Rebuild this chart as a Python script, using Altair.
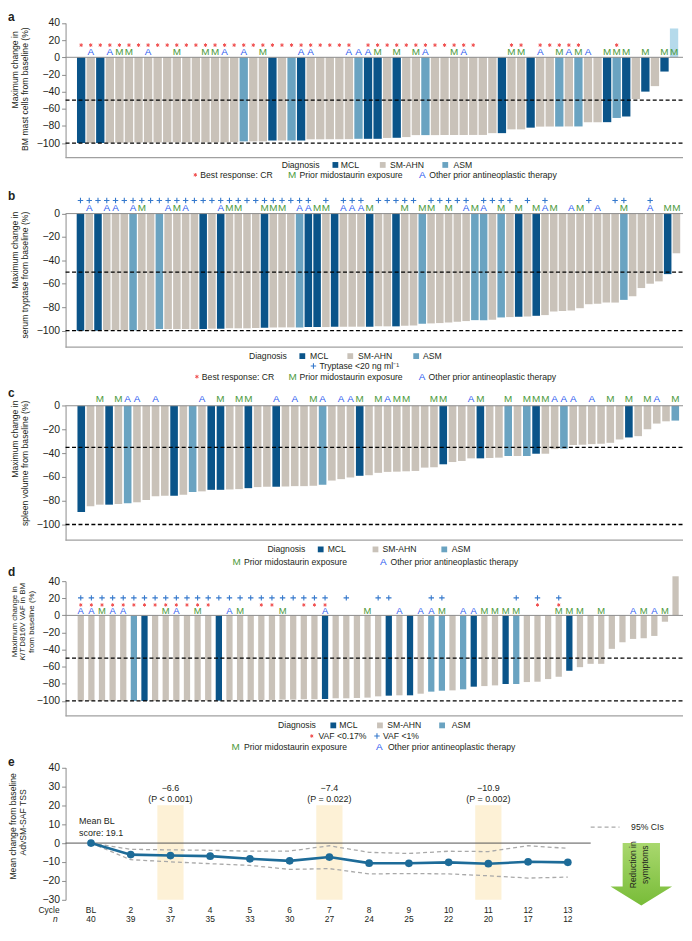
import altair as alt
import pandas as pd

FONT = "Liberation Sans"
TXT = "#231f20"
AXC = "#8c8c8c"
C_MCL = "#0A5489"
C_SM = "#C9C2B9"
C_ASM = "#6AA3C1"
C_LIGHT = "#B5DAEB"
C_A = "#2D5CF0"
C_M = "#4C9A3C"
C_STAR = "#F04E4E"
C_PLUS = "#3478CC"
C_LINE = "#1D6B98"
C_CI = "#A9A9A9"
C_HL = "#FDF1D6"
W = 620
RULE_END = 622
STAR_PATH = "M 0 -1 L 0 1 M -0.87 -0.5 L 0.87 0.5 M -0.87 0.5 L 0.87 -0.5"
PLUS_PATH = "M -1 0 L 1 0 M 0 -1 L 0 1"

DIAG_DOMAIN = ["MCL", "SM-AHN", "ASM", "ASM-light"]
DIAG_RANGE = [C_MCL, C_SM, C_ASM, C_LIGHT]

# ---------------- panel a : BM mast cells ----------------
a_values = [-100, -100, -100, -99.5, -99.5, -99.3, -99.3, -99.2, -99.2, -99.1, -99.1, -99, -99, -99,
            -98.9, -98.9, -98.8, -98, -98, -98, -97, -97, -97, -97, -95.6, -95.6, -95.5, -95.5,
            -95.4, -95, -95, -95, -94, -93.8, -93, -90.7, -90.7, -90.7, -90.6, -90.6, -90.6, -90.5,
            -90.5, -88.4, -88.4, -84, -84, -82, -80.8, -80.7, -80.7, -80.6, -80.6, -75.7, -75.7,
            -75.6, -70.7, -69, -48.6, -40, -33.6, -16.6, 33.6]
a_mcl = [0, 2, 20, 23, 30, 31, 33, 44, 47, 55, 57, 59, 61]
a_asm = [17, 22, 29, 36, 50, 52, 56]
a_light = [62]
a_cr = [0, 1, 2, 3, 4, 5, 6, 7, 8, 9, 10, 11, 12, 13, 14, 15, 16, 17, 18, 19, 20, 21, 22, 23, 24,
        25, 26, 27, 28, 30, 31, 32, 33, 34, 35, 36, 37, 38, 39, 40, 41, 45, 46, 48, 49, 50, 51, 52, 56]
a_other = [1, 3, 7, 15, 17, 23, 24, 28, 29, 30, 36, 40, 48, 51, 53]
a_mido = [4, 5, 10, 13, 14, 19, 31, 33, 35, 39, 45, 46, 50, 52, 55, 56, 57, 59, 61, 62]

# ---------------- panel b : serum tryptase ----------------
b_values = [-100, -100, -100, -99.7, -99.7, -99.7, -99.7, -99.4, -99.4, -98.6, -98.6, -98.6, -98.6,
            -98.6, -98.6, -98.3, -98.3, -98, -98, -98, -97.7, -97.5, -97.2, -97.2, -97.2, -97.2,
            -96.9, -96.9, -96.9, -96.6, -96.6, -96.6, -96.6, -96.6, -96.3, -96.3, -96.3, -95.8,
            -95.5, -94, -93.8, -93.5, -93, -92.4, -91.8, -91, -91, -90.7, -88.7, -88.4, -88.1,
            -87.9, -87.3, -86.7, -83.6, -83.3, -82.8, -80.8, -77.4, -77.1, -76, -76, -73.7, -70.6,
            -63.6, -59.9, -57.9, -51.7, -33.9]
b_mcl = [0, 2, 14, 16, 21, 26, 27, 29, 33, 36, 50, 52, 67]
b_asm = [6, 9, 25, 39, 45, 46, 48, 62]
b_tryptase = [0, 1, 2, 3, 4, 5, 6, 7, 8, 9, 10, 11, 12, 13, 14, 15, 16, 17, 18, 19, 20, 21, 22, 23,
              24, 25, 26, 28, 30, 31, 32, 34, 35, 36, 37, 38, 40, 41, 42, 43, 44, 46, 47, 48, 49,
              51, 53, 58, 61, 62, 65]
b_other = [1, 3, 4, 6, 10, 12, 16, 25, 26, 30, 31, 32, 44, 46, 53, 56, 59, 65]
b_mido = [7, 11, 17, 18, 21, 22, 23, 27, 28, 33, 37, 39, 40, 42, 45, 48, 50, 52, 54, 57, 62, 67, 68]

# ---------------- panel c : spleen volume ----------------
c_values = [-89.4, -84.7, -83.3, -83.3, -82.7, -82.2, -81.3, -79.4, -76.3, -75.8, -75.8, -74.9,
            -72.7, -72.1, -70.8, -70.8, -70.5, -70.2, -69.4, -68.5, -68.2, -68.2, -68, -67.7,
            -67.7, -67.4, -66.6, -63, -61.8, -60.4, -59, -58.5, -56.5, -55.7, -55.5, -55.2, -54.9,
            -52.1, -51.8, -49.3, -47.4, -46.5, -44.3, -44.3, -44, -43.7, -42.3, -42.3, -42.3,
            -40.4, -40.4, -36.5, -36.2, -33.1, -32.8, -32.3, -32, -31.2, -28.4, -26.7, -25.6,
            -19.8, -15, -13.1, -12.5]
c_mcl = [0, 3, 10, 14, 15, 18, 21, 30, 39, 43, 49, 59]
c_asm = [5, 12, 26, 46, 48, 52, 64]
c_other = [5, 6, 8, 13, 21, 23, 26, 28, 29, 33, 42, 51, 52, 53, 55, 62]
c_mido = [2, 4, 15, 17, 18, 25, 30, 32, 34, 35, 38, 39, 43, 46, 48, 49, 50, 57, 59, 61, 64]

# ---------------- panel d : KIT D816V VAF ----------------
d_values = [-100, -100, -100, -100, -100, -100, -100, -100, -100, -100, -100, -99.6, -99.6, -99.6,
            -99.2, -99.2, -99.2, -98.8, -98.8, -98.4, -98.4, -98, -98, -97.7, -96.9, -96.9, -96.5,
            -96.1, -94.6, -93.8, -93.4, -93.4, -91.5, -89.1, -88, -87.6, -86.4, -83.3, -82.6,
            -81.8, -80.2, -80.2, -77.9, -77.5, -74.4, -71.7, -64.7, -60.5, -56.6, -56.6, -39.1,
            -31.4, -27.5, -26.7, -24, -7.4, 45.7]
d_mcl = [6, 13, 23, 29, 31, 37, 40, 46]
d_asm = [5, 33, 34, 36, 41]
d_vaf1 = [0, 1, 2, 3, 4, 5, 6, 7, 8, 9, 10, 11, 12, 13, 14, 15, 16, 17, 18, 19, 20, 21, 22, 23,
          25, 28, 29, 33, 34, 41, 43, 45]
d_vaf017 = [0, 1, 2, 3, 4, 5, 6, 7, 8, 9, 10, 11, 12, 17, 18, 21, 22, 23, 43, 45]
d_other = [0, 1, 3, 4, 9, 14, 23, 30, 32, 33, 36, 37, 52, 54]
d_mido = [2, 8, 11, 15, 19, 27, 34, 38, 39, 40, 41, 45, 46, 47, 49, 53, 55]

# ---------------- panel e : AdvSM-SAF TSS ----------------
e_cycles = ["BL", "2", "3", "4", "5", "6", "7", "8", "9", "10", "11", "12", "13"]
e_n = [40, 39, 37, 35, 33, 30, 27, 24, 25, 22, 20, 17, 12]
e_mean = [0, -6.1, -6.6, -6.9, -8.3, -9.4, -7.4, -10.6, -10.7, -10.2, -10.9, -9.9, -10.2]
e_upper = [0, -3.3, -3.6, -3.8, -4.3, -4.2, -1.4, -4.9, -5.5, -4.3, -4.5, -1.4, -2.8]
e_lower = [0, -8.8, -9.9, -10.9, -11.8, -13.9, -13.5, -16.3, -16.1, -16.3, -17.3, -18.5, -18.0]
e_hl_cycles = [2, 6, 10]
e_hl_delta = ["\u22126.6", "\u22127.4", "\u221210.9"]
e_hl_p = ["(P < 0.001)", "(P = 0.022)", "(P = 0.002)"]

ONE = pd.DataFrame({"k": [0]})


def diag_list(n, mcl, asm, light=()):
    out = []
    for i in range(n):
        if i in mcl:
            out.append("MCL")
        elif i in asm:
            out.append("ASM")
        elif i in light:
            out.append("ASM-light")
        else:
            out.append("SM-AHN")
    return out


def txt(s, x, y, size=8.7, color=TXT, align="left", weight="normal", italic=False,
        angle=0, dx=0):
    kw = dict(text=s, align=align, baseline="middle", fontSize=size, color=color,
              font=FONT, fontWeight=weight)
    if italic:
        kw["fontStyle"] = "italic"
    if angle:
        kw["angle"] = angle
    if dx:
        kw["dx"] = dx
    return alt.Chart(ONE).mark_text(**kw).encode(x=alt.value(x), y=alt.value(y))


def sq(x, y, color):
    return alt.Chart(ONE).mark_square(size=34, color=color, opacity=1).encode(
        x=alt.value(x), y=alt.value(y))


def sym_px(path, size, color, x, y, sw=1.1):
    return alt.Chart(ONE).mark_point(shape=path, size=size, color=color, filled=False,
                                     strokeWidth=sw, opacity=1).encode(
        x=alt.value(x), y=alt.value(y))


def yaxis(vals):
    return alt.Axis(values=vals, title=None, grid=False, domainColor=AXC, tickColor=AXC,
                    tickSize=4, labelFontSize=10.5, labelFont=FONT, labelColor=TXT,
                    labelPadding=2, format="d", labelOverlap=False, labelFlush=False,
                    labelBound=False)


def ann(idx, s, color, yval, size, xs):
    df = pd.DataFrame({"i": idx})
    return alt.Chart(df).mark_text(text=s, color=color, fontSize=size, font=FONT,
                                   baseline="middle").encode(
        x=alt.X("i:O", scale=xs, axis=None), y=alt.Y(datum=yval, axis=None))


def ann_sym(idx, path, size, color, yval, xs, sw=1.1):
    df = pd.DataFrame({"i": idx})
    return alt.Chart(df).mark_point(shape=path, size=size, color=color, filled=False,
                                    strokeWidth=sw, opacity=1).encode(
        x=alt.X("i:O", scale=xs, axis=None), y=alt.Y(datum=yval, axis=None))


def bar_layers(values, diag, xs, ys, ticks, dashed, base_px):
    df = pd.DataFrame({"i": list(range(len(values))), "v": values, "d": diag})
    bars = alt.Chart(df).mark_bar().encode(
        x=alt.X("i:O", scale=xs, axis=None),
        y=alt.Y("v:Q", scale=ys, axis=yaxis(ticks)),
        y2=alt.datum(0),
        color=alt.Color("d:N", scale=alt.Scale(domain=DIAG_DOMAIN, range=DIAG_RANGE), legend=None),
    )
    zero = alt.Chart(ONE).mark_rule(color="#8c8c8c", strokeWidth=1).encode(
        x=alt.value(0), x2=alt.value(RULE_END), y=alt.Y(datum=0, axis=None))
    base = alt.Chart(ONE).mark_rule(color="#a0a0a0", strokeWidth=1.2).encode(
        x=alt.value(0), x2=alt.value(RULE_END), y=alt.value(base_px))
    dl = [alt.Chart(ONE).mark_rule(color="black", strokeDash=[4, 2.5], strokeWidth=1.3).encode(
        x=alt.value(0), x2=alt.value(RULE_END), y=alt.Y(datum=v, axis=None)) for v in dashed]
    return [bars, zero, base] + dl


def diag_legend(y, xd, xs1, xt1, xs2, xt2, xs3, xt3):
    return [txt("Diagnosis", xd, y), sq(xs1, y, C_MCL), txt("MCL", xt1, y),
            sq(xs2, y, C_SM), txt("SM-AHN", xt2, y), sq(xs3, y, C_ASM), txt("ASM", xt3, y)]


def mido_other_legend(y, xm, xmt, xa, xat):
    return [txt("M", xm, y, size=10, color=C_M, align="center"),
            txt("Prior midostaurin exposure", xmt, y),
            txt("A", xa, y, size=10, color=C_A, align="center"),
            txt("Other prior antineoplastic therapy", xat, y)]


def panel(layers, height):
    return alt.layer(*layers).resolve_axis(y="independent").properties(width=W, height=height)


TICKS_40 = [40, 20, 0, -20, -40, -60, -80, -100]
TICKS_0 = [0, -20, -40, -60, -80, -100]

# ---- panel a ----
xs_a = alt.Scale(domain=list(range(len(a_values))), range=[10.88, 617.8], paddingInner=0.13, paddingOuter=0.065)
ys_a = alt.Scale(domain=[-116.9, 40], range=[147.3, 11.7], nice=False, zero=False)
la = bar_layers(a_values, diag_list(len(a_values), a_mcl, a_asm, a_light), xs_a, ys_a, TICKS_40, [-50, -100], 147.3)
la += [ann_sym(a_cr, STAR_PATH, 14, C_STAR, 14.2, xs_a, sw=1), ann(a_other, "A", C_A, 5.8, 10, xs_a),
       ann(a_mido, "M", C_M, 5.8, 10, xs_a)]
la += diag_legend(154.7, 217.7, 271.8, 277.3, 319.5, 326.7, 382.5, 390.7)
la += [sym_px(STAR_PATH, 14, C_STAR, 196.7 - 66, 164.7, sw=1), txt("Best response: CR", 135.7, 164.7)]
la += mido_other_legend(164.7, 228.2, 235.7, 359.3, 366.3)
la += [txt("Maximum change in", -51, 20, align="right", angle=270),
       txt("BM mast cells from baseline (%)", -41, 16, align="right", angle=270),
       txt("a", -58, 6, size=12, weight="bold")]
pa = panel(la, 174)

# ---- panel b ----
xs_b = alt.Scale(domain=list(range(len(b_values))), range=[10.59, 619.8], paddingInner=0.14, paddingOuter=0.07)
ys_b = alt.Scale(domain=[-114.1, 0], range=[164.3, 29.7], nice=False, zero=False)
lb = bar_layers(b_values, diag_list(len(b_values), b_mcl, b_asm), xs_b, ys_b, TICKS_0, [-50, -100], 164.3)
lb += [ann_sym(b_tryptase, PLUS_PATH, 30, C_PLUS, 11.2, xs_b), ann(b_other, "A", C_A, 4.6, 10, xs_b),
       ann(b_mido, "M", C_M, 4.6, 10, xs_b)]
lb += diag_legend(173.3, 184.7, 238.5, 246.3, 286.8, 294.7, 353.2, 360)
lb += [sym_px(PLUS_PATH, 30, C_PLUS, 249.7, 183.3),
       txt("Tryptase <20 ng ml\u207b\u00b9", 255.7, 183.3)]
lb += [sym_px(STAR_PATH, 14, C_STAR, 132.3, 194, sw=1), txt("Best response: CR", 137.3, 194)]
lb += mido_other_legend(194, 228.7, 235.7, 359, 365.7)
lb += [txt("Maximum change in", -51, 27.7, align="right", angle=270),
       txt("serum tryptase from baseline (%)", -41, 27.7, align="right", angle=270),
       txt("b", -58, 12, size=12, weight="bold")]
pb = panel(lb, 202)

# ---- panel c ----
xs_c = alt.Scale(domain=list(range(len(c_values))), range=[11.13, 618.9], paddingInner=0.18, paddingOuter=0.09)
ys_c = alt.Scale(domain=[-113.2, 0], range=[156.7, 21.3], nice=False, zero=False)
lc = bar_layers(c_values, diag_list(len(c_values), c_mcl, c_asm), xs_c, ys_c, TICKS_0, [-35, -100], 156.7)
lc += [ann(c_other, "A", C_A, 5.3, 10, xs_c), ann(c_mido, "M", C_M, 5.3, 10, xs_c)]
lc += diag_legend(166, 203.3, 257, 264, 312.2, 319.3, 381.5, 389)
lc += mido_other_legend(178.7, 172.3, 179.7, 320, 327.3)
lc += [txt("Maximum change in", -51, 16, align="right", angle=270),
       txt("spleen volume from baseline (%)", -41, 16, align="right", angle=270),
       txt("c", -58, 8, size=12, weight="bold")]
pc = panel(lc, 183)

# ---- panel d ----
xs_d = alt.Scale(domain=list(range(len(d_values))), range=[9.95, 619.85], paddingInner=0.41, paddingOuter=0.205)
ys_d = alt.Scale(domain=[-117.4, 40], range=[150.7, 15], nice=False, zero=False)
ld = bar_layers(d_values, diag_list(len(d_values), d_mcl, d_asm), xs_d, ys_d, TICKS_40, [-50, -100], 150.7)
ld += [ann_sym(d_vaf1, PLUS_PATH, 30, C_PLUS, 20.5, xs_d), ann_sym(d_vaf017, STAR_PATH, 12, C_STAR, 12.2, xs_d, sw=1),
       ann(d_other, "A", C_A, 5.4, 9.5, xs_d), ann(d_mido, "M", C_M, 5.4, 9.5, xs_d)]
ld += diag_legend(160.3, 214, 269.7, 275.7, 316.7, 324, 379.3, 389)
ld += [sym_px(STAR_PATH, 12, C_STAR, 248, 171, sw=1), txt("VAF <0.17%", 254.7, 171),
       sym_px(PLUS_PATH, 30, C_PLUS, 313.7, 171), txt("VAF <1%", 319.7, 171)]
ld += mido_other_legend(182.3, 171.3, 179.7, 316, 324.7)
ld += [txt("Maximum change in", -51, 56, size=8, align="center", angle=270),
       txt("KIT", -42.5, 56, size=8, align="left", angle=270, italic=True, dx=-39),
       txt("D816V VAF in BM", -42.5, 56, size=8, align="left", angle=270, dx=-25),
       txt("from baseline (%)", -34, 56, size=8, align="center", angle=270),
       txt("d", -58, 6, size=12, weight="bold")]
pdd = panel(ld, 188)

# ---- panel e ----
e_df = pd.DataFrame({"i": list(range(len(e_cycles))), "cycle": e_cycles, "n": e_n,
                     "mean": e_mean, "hi": e_upper, "lo": e_lower})
hl_df = pd.DataFrame({"c": e_hl_cycles, "delta": e_hl_delta, "p": e_hl_p})
xs_e = alt.Scale(domain=[-0.6395, 14.849], nice=False, zero=False)
ys_e = alt.Scale(domain=[-30, 40], range=[148, 14.7], nice=False, zero=False)

hl = alt.Chart(hl_df).transform_calculate(x1="datum.c - 0.33", x2="datum.c + 0.33").mark_rect(
    color=C_HL).encode(x=alt.X("x1:Q", scale=xs_e, axis=None), x2="x2:Q",
                       y=alt.Y(datum=-30, scale=ys_e, axis=yaxis([40, 30, 20, 10, 0, -10, -20, -30])),
                       y2=alt.datum(20))
zero_e = alt.Chart(ONE).mark_rule(color="#555555", strokeWidth=1).encode(
    x=alt.value(0), x2=alt.value(529), y=alt.Y(datum=0, axis=None))
ci_hi = alt.Chart(e_df).mark_line(color=C_CI, strokeDash=[4, 3], strokeWidth=1.3).encode(
    x=alt.X("i:Q", scale=xs_e, axis=None), y=alt.Y("hi:Q", scale=ys_e, axis=None))
ci_lo = alt.Chart(e_df).mark_line(color=C_CI, strokeDash=[4, 3], strokeWidth=1.3).encode(
    x=alt.X("i:Q", scale=xs_e, axis=None), y=alt.Y("lo:Q", scale=ys_e, axis=None))
mean_line = alt.Chart(e_df).mark_line(color=C_LINE, strokeWidth=2.6).encode(
    x=alt.X("i:Q", scale=xs_e, axis=None), y=alt.Y("mean:Q", scale=ys_e, axis=None))
mean_pts = alt.Chart(e_df).mark_circle(color=C_LINE, size=60, opacity=1).encode(
    x=alt.X("i:Q", scale=xs_e, axis=None), y=alt.Y("mean:Q", scale=ys_e, axis=None))
cyc_lab = alt.Chart(e_df).mark_text(fontSize=8.5, font=FONT, color=TXT, baseline="middle").encode(
    x=alt.X("i:Q", scale=xs_e, axis=None), y=alt.value(158), text="cycle:N")
n_lab = alt.Chart(e_df).mark_text(fontSize=8.5, font=FONT, color=TXT, baseline="middle").encode(
    x=alt.X("i:Q", scale=xs_e, axis=None), y=alt.value(167), text="n:N")
d_lab = alt.Chart(hl_df).mark_text(fontSize=9, font=FONT, color=TXT, baseline="middle").encode(
    x=alt.X("c:Q", scale=xs_e, axis=None), y=alt.value(35.3), text="delta:N")
p_lab = alt.Chart(hl_df).mark_text(fontSize=9, font=FONT, color=TXT, baseline="middle").encode(
    x=alt.X("c:Q", scale=xs_e, axis=None), y=alt.value(46.3), text="p:N")

arrow_path = "M -0.597 -1 L 0.597 -1 L 0.597 0.397 L 0.984 0.397 L 0 1 L -0.984 0.397 L -0.597 0.397 Z"
arrow = alt.Chart(ONE).mark_point(
    shape=arrow_path, size=3969, filled=True, opacity=1, strokeWidth=0,
    color=alt.LinearGradient(gradient="linear", x1=0, x2=0, y1=0, y2=1,
                             stops=[alt.GradientStop(color="#A9D86E", offset=0),
                                    alt.GradientStop(color="#78BC38", offset=1)])
).encode(x=alt.value(580), y=alt.value(122.2))
ci_leg = alt.Chart(ONE).mark_rule(color=C_CI, strokeDash=[4, 3], strokeWidth=1.3).encode(
    x=alt.value(529), x2=alt.value(558), y=alt.value(74.7))

le = [hl, zero_e, ci_hi, ci_lo, mean_line, mean_pts, cyc_lab, n_lab, d_lab, p_lab, arrow, ci_leg,
      txt("95% CIs", 569.7, 74.7),
      txt("Reduction in", 572, 112.7, size=8.5, align="center", angle=270),
      txt("symptoms", 584, 112.7, size=8.5, align="center", angle=270),
      txt("Mean BL", 13.6, 68.7, size=9),
      txt("score: 19.1", 13.6, 80.3, size=9),
      txt("Cycle", -6, 158, size=8.5, align="right"),
      txt("n", -8, 167, size=8.5, align="right", italic=True),
      txt("Mean change from baseline", -53, 74, align="center", angle=270),
      txt("AdvSM-SAF TSS", -43, 70, align="center", angle=270),
      txt("e", -58, 9, size=12, weight="bold")]
pe = panel(le, 171)

chart = alt.vconcat(pa, pb, pc, pdd, pe, spacing=0, bounds="flush").properties(
    padding=0).configure_view(stroke=None).configure_axis(labelOverlap=False)

chart.save("out.html", embed_options={"renderer": "svg", "actions": False})
